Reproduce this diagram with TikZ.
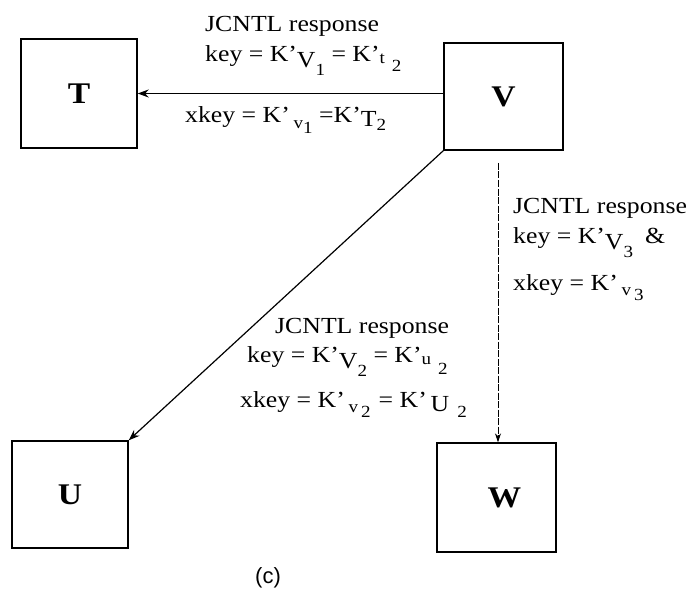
\documentclass[tikz,border=0pt]{standalone}
\usepackage{fontspec}
\setmainfont[FakeStretch=1.12]{Liberation Serif}
\newfontfamily\capsf{Liberation Sans}
\usetikzlibrary{arrows.meta}
\newcommand\lw[2]{\raisebox{-#1pt}{#2}}
\newcommand\sm[1]{{\fontsize{17}{17}\selectfont #1}}
\begin{document}
\begin{tikzpicture}[x=1pt,y=-1pt,
  box/.style={draw,line width=1.4pt,inner sep=0pt,font=\fontsize{30}{30}\selectfont\bfseries},
  lbl/.style={anchor=base west,inner sep=0pt,font=\fontsize{23}{23}\selectfont},
  conn/.style={line width=1.2pt,-{Stealth[length=11pt,width=8pt]}},
  dconn/.style={line width=0.8pt,dash pattern=on 7pt off 1.5pt,-{Stealth[length=9pt,width=6pt]}}]
\useasboundingbox (0,0) rectangle (698,596);
% boxes
\node[box,minimum width=116pt,minimum height=109pt] (T) at (79,93.5) {T};
\node[box,minimum width=119pt,minimum height=107pt] (V) at (503.5,96.5) {V};
\node[box,minimum width=116pt,minimum height=107pt] (U) at (70,494.5) {U};
\node[box,minimum width=119pt,minimum height=109pt] (W) at (496.5,497.5) {\hspace{16pt}W};
% connectors
\draw[conn] (T.east -| V.west) -- (T.east);
\draw[conn] (V.south west) -- (U.north east);
\coordinate (vs) at (498,163);
\draw[dconn] (vs) -- (vs |- W.north);
% labels top
\node[lbl] (a1) at (205,32) {JCNTL response};
\node[lbl] (a2) at (205,62) {key = K'\lw{6}{V}\lw{14}{\sm{1}} = K'\lw{2}{\sm{t}}\hspace{7pt}\lw{10}{\sm{2}}};
\node[lbl] (a3) at (185,123) {xkey = K'\,\lw{6}{\sm{v}}\lw{11}{\sm{1}} =K'\lw{4}{T}\lw{8}{\sm{2}}};
% labels right
\node[lbl] (b1) at (513,213) {JCNTL response};
\node[lbl] (b2) at (513,243) {key = K'\lw{6}{V}\lw{14}{\sm{3}}\hspace{12pt}\&};
\node[lbl] (b3) at (513,290) {xkey = K'\,\lw{5}{\sm{v}}\hspace{3pt}\lw{10}{\sm{3}}};
% labels middle
\node[lbl] (c1) at (275,333) {JCNTL response};
\node[lbl] (c2) at (247,362) {key = K'\lw{6}{V}\lw{14}{\sm{2}} = K'\lw{2}{\sm{u}}\hspace{7pt}\lw{12}{\sm{2}}};
\node[lbl] (c3) at (240,407) {xkey = K'\,\lw{5}{\sm{v}}\hspace{3pt}\lw{10}{\sm{2}}\hspace{8pt}= K'\,\lw{4}{U}\hspace{8pt}\lw{10}{\sm{2}}};
% caption
\node[font=\capsf\fontsize{22}{22}\selectfont] (cap) at (268,578) {(c)};
\end{tikzpicture}
\end{document}
